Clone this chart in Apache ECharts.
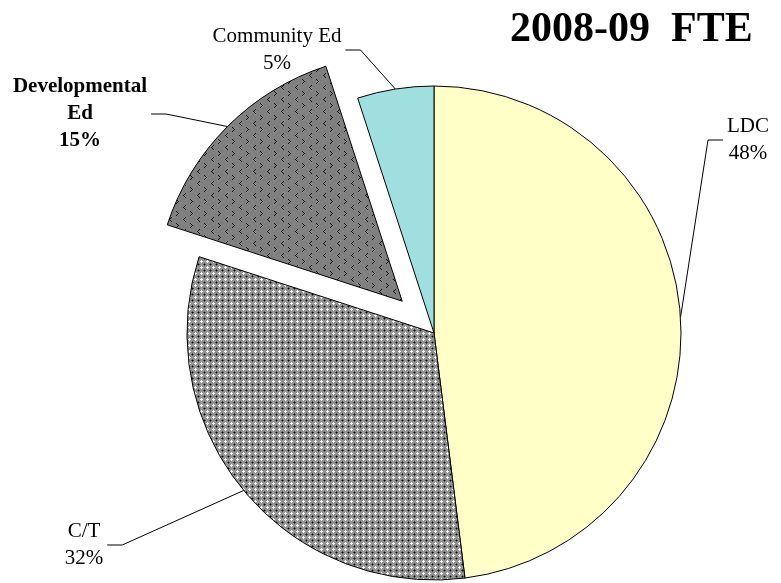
<!DOCTYPE html>
<html><head><meta charset="utf-8">
<script src="https://cdn.jsdelivr.net/npm/echarts@6/dist/echarts.min.js"></script>
<style>html,body{margin:0;padding:0;background:#fff}#c{width:781px;height:583px}</style>
</head><body><div id="c"></div>
<script>
// ---- data ----
const categories = ['LDC', 'C/T', 'Developmental Ed', 'Community Ed'];
const values = [48, 32, 15, 5];
const exploded = [false, false, true, false];
const chartTitle = '2008-09  FTE';

// ---- layout / style ----
const CX = 434, CY = 333, R = 247, OFFSET = 45;
const labelCenters = [[748, 140], [84, 545], [80, 114], [277, 50]];
const FONT = 'Liberation Serif';

function makePattern(w, h, bg, draw) {
  const c = document.createElement('canvas');
  c.width = w; c.height = h;
  const g = c.getContext('2d');
  g.fillStyle = bg; g.fillRect(0, 0, w, h);
  draw(g);
  return c;
}
function px(g, col, pts) { g.fillStyle = col; pts.forEach(p => g.fillRect(p[0], p[1], 1, 1)); }

const ctPattern = makePattern(6, 6, '#949494', g => {
  px(g, '#ffffff', [[3,2],[2,3],[3,3],[4,3],[3,4]]);
  px(g, '#000000', [[0,0]]);
  px(g, '#505050', [[1,0],[0,1],[5,0],[0,5]]);
});
const devPattern = makePattern(14, 12, '#808080', g => {
  px(g, '#000000', [[3,1],[2,2],[1,3],[2,4],[3,5]]);
  px(g, '#000000', [[8,7],[9,8],[10,9],[9,10],[8,11]]);
});

const colors = [
  '#FFFFC8',
  { image: ctPattern, repeat: 'repeat' },
  { image: devPattern, repeat: 'repeat' },
  '#A0DFE0'
];

const total = values.reduce((a, b) => a + b, 0);
function midAngle(i) {
  let before = 0;
  for (let k = 0; k < i; k++) before += values[k];
  return (before + values[i] / 2) / total * 2 * Math.PI;
}
function offsetOf(i) {
  if (!exploded[i]) return [0, 0];
  const m = midAngle(i);
  return [OFFSET * Math.sin(m), -OFFSET * Math.cos(m)];
}
function edgePoint(i) {
  const m = midAngle(i), o = offsetOf(i);
  return [CX + o[0] + R * Math.sin(m), CY + o[1] - R * Math.cos(m)];
}
const explodedIdx = exploded.indexOf(true);
const exOff = offsetOf(explodedIdx);

const labelStyle = {
  show: true, position: 'outside', overflow: 'none',
  fontFamily: FONT, fontSize: 21, lineHeight: 27, color: '#000', align: 'center',
  formatter: p => p.name.replace(' Ed', p.dataIndex === 2 ? '\nEd' : ' Ed') + '\n' + p.value + '%'
};
function layoutFn(params) {
  const i = params.dataIndex;
  const [x, y] = labelCenters[i];
  const w = params.labelRect.width;
  const right = x > CX;
  const sx = right ? x - w / 2 - 4 : x + w / 2 + 4;
  const cx = right ? sx - 15 : sx + 15;
  return {
    x: x, y: y, align: 'center', verticalAlign: 'middle',
    labelLinePoints: [edgePoint(i), [cx, y], [sx, y]]
  };
}
function makeSeries(showFn, center) {
  return {
    type: 'pie',
    silent: true,
    center: center,
    radius: [0, R],
    startAngle: 90,
    clockwise: true,
    emphasis: { disabled: true, scale: false },
    itemStyle: { borderColor: '#000', borderWidth: 1 },
    label: labelStyle,
    labelLine: { show: true, lineStyle: { color: '#000', width: 1 } },
    labelLayout: layoutFn,
    data: categories.map((name, i) => {
      const vis = showFn(i);
      return {
        name: name, value: values[i],
        itemStyle: vis ? { color: colors[i] } : { color: 'rgba(0,0,0,0)', borderWidth: 0 },
        label: vis ? (i === 2 ? { fontWeight: 'bold' } : {}) : { show: false },
        labelLine: { show: vis }
      };
    })
  };
}

const chart = echarts.init(document.getElementById('c'), null, { renderer: 'canvas' });
chart.setOption({
  animation: false,
  backgroundColor: '#fff',
  title: {
    text: chartTitle, left: 505, top: 4,
    textStyle: { fontFamily: FONT, fontSize: 42, fontWeight: 'bold', color: '#000' }
  },
  series: [
    makeSeries(i => !exploded[i], [CX, CY]),
    makeSeries(i => exploded[i], [CX + exOff[0], CY + exOff[1]])
  ]
});
</script>
</body></html>
